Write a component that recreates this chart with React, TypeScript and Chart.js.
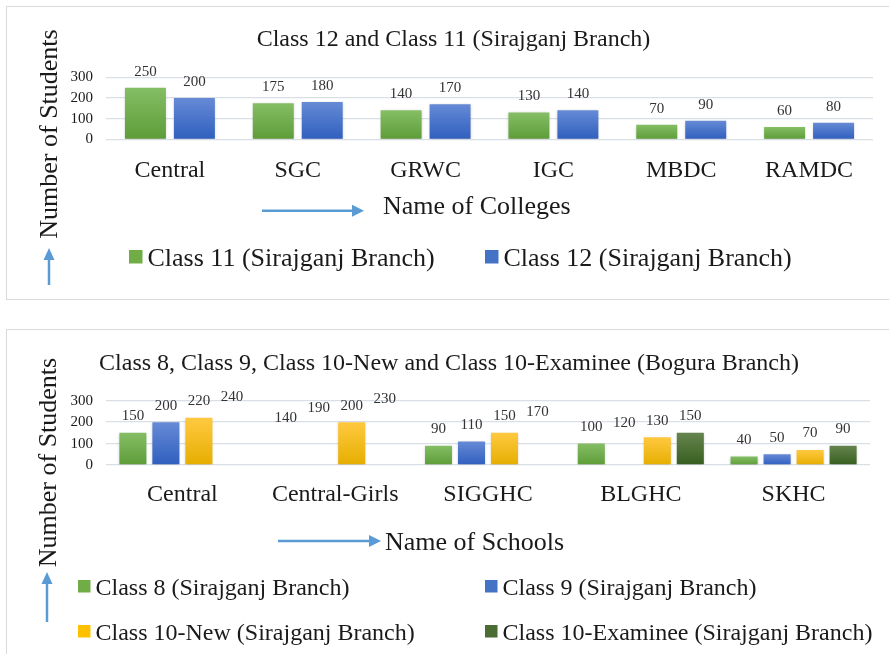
import React, { useEffect, useRef } from "react";
import { Chart, registerables } from "chart.js";

Chart.register(...registerables);

// ---------- data ----------
const collegeCategories = ["Central", "SGC", "GRWC", "IGC", "MBDC", "RAMDC"];
const class11Values = [250, 175, 140, 130, 70, 60];
const class12Values = [200, 180, 170, 140, 90, 80];

const schoolCategories = ["Central", "Central-Girls", "SIGGHC", "BLGHC", "SKHC"];
const class8Values = [150, 140, 90, 100, 40];
const class9Values = [200, 190, 110, 120, 50];
const class10NewValues = [220, 200, 150, 130, 70];
const class10ExamineeValues = [240, 230, 170, 150, 90];
// bars that are actually drawn in the source figure (value labels are always shown)
const class8Drawn = [true, false, true, true, true];
const class9Drawn = [true, false, true, false, true];
const class10NewDrawn = [true, true, true, true, true];
const class10ExamineeDrawn = [false, false, false, true, true];

const yTickValues = [0, 100, 200, 300];

// ---------- styles ----------
const SERIF = '"Liberation Serif", "Times New Roman", serif';
const TEXT = "#1a1a1a";
const LABEL = "#333333";
const ARROW = "#5b9bd5";
const GRID = "#dadfe6";

const GREEN = { top: "#85be65", bottom: "#5e9c38", solid: "#70ad47" };
const BLUE = { top: "#668ad6", bottom: "#2f5fbe", solid: "#4472c4" };
const YELLOW = { top: "#ffc940", bottom: "#e6ae00", solid: "#ffc000" };
const DKGREEN = { top: "#66844f", bottom: "#365e1f", solid: "#4a6d33" };

type Pal = { top: string; bottom: string; solid: string };

function gradientFill(pal: Pal, values: number[], drawn: boolean[] | null) {
  return (ctx: any) => {
    const i = ctx.dataIndex;
    if (drawn && !drawn[i]) return "rgba(0,0,0,0)";
    const chart = ctx.chart;
    const ys = chart.scales && chart.scales.y;
    if (!ys || !chart.chartArea) return pal.solid;
    const top = ys.getPixelForValue(values[i]);
    const base = ys.getPixelForValue(0);
    if (!isFinite(top) || !isFinite(base) || base - top < 1) return pal.solid;
    const g = chart.ctx.createLinearGradient(0, top, 0, base);
    g.addColorStop(0, pal.top);
    g.addColorStop(1, pal.bottom);
    return g;
  };
}

type LegendItem = { text: string; color: string; x: number; y: number };
type OverlayCfg = {
  title: string;
  titleX: number;
  titleBase: number;
  yTitle: string;
  yTitleX: number;
  yTitleCY: number;
  yArrowX: number;
  yArrowTail: number;
  yArrowTip: number;
  xTitle: string;
  xTitleX: number;
  xTitleBase: number;
  xArrowFrom: number;
  xArrowTo: number;
  xArrowY: number;
  legend: LegendItem[];
  legendFont: number;
  legendBox: number;
  legendGap: number;
  legendBaseOffset: number;
  labelOffset: number;
};

function arrowHead(ctx: CanvasRenderingContext2D, tipX: number, tipY: number, dir: "right" | "up") {
  ctx.beginPath();
  if (dir === "right") {
    ctx.moveTo(tipX, tipY);
    ctx.lineTo(tipX - 12, tipY - 6);
    ctx.lineTo(tipX - 12, tipY + 6);
  } else {
    ctx.moveTo(tipX, tipY);
    ctx.lineTo(tipX - 5.5, tipY + 12);
    ctx.lineTo(tipX + 5.5, tipY + 12);
  }
  ctx.closePath();
  ctx.fill();
}

function makeOverlay(cfg: OverlayCfg) {
  return {
    id: "overlay",
    beforeDatasetsDraw(chart: any) {
      const ctx = chart.ctx;
      ctx.save();
      ctx.shadowColor = "rgba(0,0,0,0.22)";
      ctx.shadowBlur = 3;
      ctx.shadowOffsetX = 0;
      ctx.shadowOffsetY = 1;
    },
    afterDatasetsDraw(chart: any) {
      const ctx = chart.ctx;
      ctx.restore();
      // value labels
      ctx.save();
      ctx.font = `15px ${SERIF}`;
      ctx.fillStyle = LABEL;
      ctx.textAlign = "center";
      ctx.textBaseline = "alphabetic";
      const ys = chart.scales.y;
      chart.data.datasets.forEach((ds: any, di: number) => {
        const meta = chart.getDatasetMeta(di);
        meta.data.forEach((el: any, i: number) => {
          const v = ds.data[i];
          const y = ys.getPixelForValue(v);
          ctx.fillText(String(v), el.x, y - cfg.labelOffset);
        });
      });
      ctx.restore();
    },
    afterDraw(chart: any) {
      const ctx: CanvasRenderingContext2D = chart.ctx;
      ctx.save();
      // title
      ctx.fillStyle = TEXT;
      ctx.font = `24px ${SERIF}`;
      ctx.textAlign = "center";
      ctx.textBaseline = "alphabetic";
      ctx.fillText(cfg.title, cfg.titleX, cfg.titleBase);

      // y title (rotated)
      ctx.save();
      ctx.translate(cfg.yTitleX, cfg.yTitleCY);
      ctx.rotate(-Math.PI / 2);
      ctx.font = `26px ${SERIF}`;
      ctx.textAlign = "center";
      ctx.fillText(cfg.yTitle, 0, 0);
      ctx.restore();

      // arrows
      ctx.strokeStyle = ARROW;
      ctx.fillStyle = ARROW;
      ctx.lineWidth = 2.5;
      ctx.beginPath();
      ctx.moveTo(cfg.yArrowX, cfg.yArrowTail);
      ctx.lineTo(cfg.yArrowX, cfg.yArrowTip + 10);
      ctx.stroke();
      arrowHead(ctx, cfg.yArrowX, cfg.yArrowTip, "up");
      ctx.beginPath();
      ctx.moveTo(cfg.xArrowFrom, cfg.xArrowY);
      ctx.lineTo(cfg.xArrowTo - 10, cfg.xArrowY);
      ctx.stroke();
      arrowHead(ctx, cfg.xArrowTo, cfg.xArrowY, "right");

      // x title
      ctx.fillStyle = TEXT;
      ctx.font = `26px ${SERIF}`;
      ctx.textAlign = "left";
      ctx.fillText(cfg.xTitle, cfg.xTitleX, cfg.xTitleBase);

      // legend
      ctx.font = `${cfg.legendFont}px ${SERIF}`;
      cfg.legend.forEach((it) => {
        ctx.fillStyle = it.color;
        ctx.fillRect(it.x, it.y, cfg.legendBox, cfg.legendBox);
        ctx.fillStyle = TEXT;
        ctx.fillText(it.text, it.x + cfg.legendBox + cfg.legendGap, it.y + cfg.legendBaseOffset);
      });
      ctx.restore();
    },
  };
}

function baseOptions(pad: { left: number; right: number; top: number }, yWidth: number, xHeight: number, catPct: number, barPct: number, xPad: number) {
  return {
    responsive: false,
    animation: false as const,
    events: [],
    layout: { padding: { left: pad.left, right: pad.right, top: pad.top, bottom: 0 } },
    plugins: {
      legend: { display: false },
      title: { display: false },
      tooltip: { enabled: false },
    },
    datasets: { bar: { categoryPercentage: catPct, barPercentage: barPct } },
    scales: {
      x: {
        grid: { display: false },
        border: { display: false },
        ticks: {
          autoSkip: false,
          maxRotation: 0,
          padding: xPad,
          color: TEXT,
          font: { family: SERIF, size: 24 },
        },
        afterFit: (s: any) => {
          s.height = xHeight;
        },
      },
      y: {
        min: 0,
        max: 300,
        afterBuildTicks: (s: any) => {
          s.ticks = yTickValues.map((v) => ({ value: v }));
        },
        grid: { color: GRID, lineWidth: 1.3, drawTicks: false },
        border: { display: false },
        ticks: {
          autoSkip: false,
          padding: 13,
          color: TEXT,
          font: { family: SERIF, size: 15 },
        },
        afterFit: (s: any) => {
          s.width = yWidth;
        },
      },
    },
  };
}

function CollegeChart() {
  const ref = useRef<HTMLCanvasElement>(null);
  useEffect(() => {
    const overlay = makeOverlay({
      title: "Class 12 and Class 11 (Sirajganj Branch)",
      titleX: 453.5,
      titleBase: 45.7,
      yTitle: "Number of Students",
      yTitleX: 56.5,
      yTitleCY: 134,
      yArrowX: 49,
      yArrowTail: 285,
      yArrowTip: 248,
      xTitle: "Name of Colleges",
      xTitleX: 383,
      xTitleBase: 213.5,
      xArrowFrom: 262,
      xArrowTo: 364,
      xArrowY: 210.7,
      legend: [
        { text: "Class 11 (Sirajganj Branch)", color: GREEN.solid, x: 129, y: 250 },
        { text: "Class 12 (Sirajganj Branch)", color: BLUE.solid, x: 485, y: 250 },
      ],
      legendFont: 26,
      legendBox: 13.5,
      legendGap: 5,
      legendBaseOffset: 16,
      labelOffset: 12,
    });
    const chart = new Chart(ref.current as HTMLCanvasElement, {
      type: "bar",
      data: {
        labels: collegeCategories,
        datasets: [
          { label: "Class 11 (Sirajganj Branch)", data: class11Values, backgroundColor: gradientFill(GREEN, class11Values, null) as any },
          { label: "Class 12 (Sirajganj Branch)", data: class12Values, backgroundColor: gradientFill(BLUE, class12Values, null) as any },
        ],
      },
      options: baseOptions({ left: 60, right: 16, top: 77.3 }, 46, 300 - 139.3, 0.766, 0.837, 9.5) as any,
      plugins: [overlay],
    });
    return () => chart.destroy();
  }, []);
  return <canvas ref={ref} width={889} height={300} style={{ position: "absolute", left: 0, top: 0, display: "block" }} />;
}

function SchoolChart() {
  const ref = useRef<HTMLCanvasElement>(null);
  useEffect(() => {
    const overlay = makeOverlay({
      title: "Class 8, Class 9, Class 10-New and Class 10-Examinee (Bogura Branch)",
      titleX: 449,
      titleBase: 39.5,
      yTitle: "Number of Students",
      yTitleX: 56,
      yTitleCY: 132.5,
      yArrowX: 47,
      yArrowTail: 292,
      yArrowTip: 242,
      xTitle: "Name of Schools",
      xTitleX: 385,
      xTitleBase: 220,
      xArrowFrom: 278,
      xArrowTo: 381,
      xArrowY: 211,
      legend: [
        { text: "Class 8 (Sirajganj Branch)", color: GREEN.solid, x: 78, y: 250 },
        { text: "Class 9 (Sirajganj Branch)", color: BLUE.solid, x: 485, y: 250 },
        { text: "Class 10-New (Sirajganj Branch)", color: YELLOW.solid, x: 78, y: 295 },
        { text: "Class 10-Examinee (Sirajganj Branch)", color: DKGREEN.solid, x: 485, y: 295 },
      ],
      legendFont: 24,
      legendBox: 12.5,
      legendGap: 5,
      legendBaseOffset: 15,
      labelOffset: 12.5,
    });
    const chart = new Chart(ref.current as HTMLCanvasElement, {
      type: "bar",
      data: {
        labels: schoolCategories,
        datasets: [
          { label: "Class 8 (Sirajganj Branch)", data: class8Values, backgroundColor: gradientFill(GREEN, class8Values, class8Drawn) as any },
          { label: "Class 9 (Sirajganj Branch)", data: class9Values, backgroundColor: gradientFill(BLUE, class9Values, class9Drawn) as any },
          { label: "Class 10-New (Sirajganj Branch)", data: class10NewValues, backgroundColor: gradientFill(YELLOW, class10NewValues, class10NewDrawn) as any },
          { label: "Class 10-Examinee (Sirajganj Branch)", data: class10ExamineeValues, backgroundColor: gradientFill(DKGREEN, class10ExamineeValues, class10ExamineeDrawn) as any },
        ],
      },
      options: baseOptions({ left: 60, right: 19, top: 70.7 }, 46, 324 - 135, 0.864, 0.82, 7.5) as any,
      plugins: [overlay],
    });
    return () => chart.destroy();
  }, []);
  return <canvas ref={ref} width={889} height={324} style={{ position: "absolute", left: 0, top: 330, display: "block" }} />;
}

export default function App() {
  return (
    <div style={{ position: "absolute", left: 0, top: 0, width: 889, height: 654, overflow: "hidden", background: "#ffffff" }}>
      <div style={{ position: "absolute", left: 6, top: 6, width: 900, height: 292, border: "1px solid #d9d9d9" }} />
      <div style={{ position: "absolute", left: 6, top: 329, width: 900, height: 400, border: "1px solid #d9d9d9" }} />
      <CollegeChart />
      <SchoolChart />
    </div>
  );
}
